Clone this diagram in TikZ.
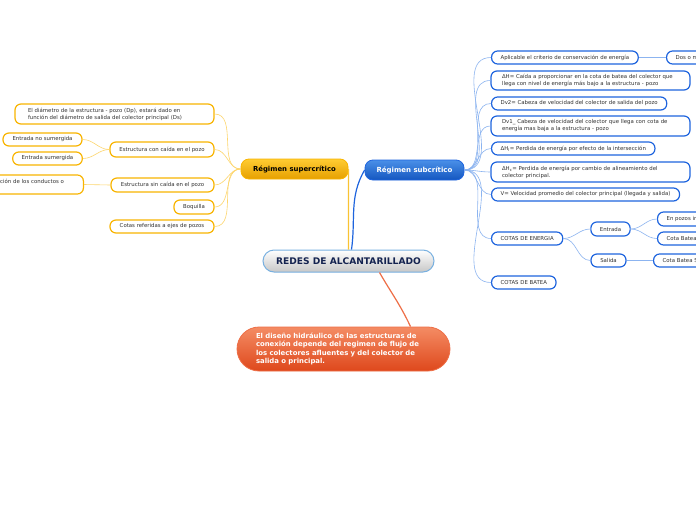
\documentclass[tikz,border=0pt]{standalone}
\usepackage{fontspec}
\setmainfont{DejaVu Sans}
\usetikzlibrary{positioning}
\definecolor{ybord}{RGB}{248,180,0}
\definecolor{ywire}{RGB}{253,214,110}
\definecolor{bbord}{RGB}{30,100,222}
\definecolor{bwire}{RGB}{140,180,240}
\definecolor{ink}{RGB}{50,50,50}
\definecolor{navy}{RGB}{20,35,80}
\definecolor{cbord}{RGB}{120,176,224}
\definecolor{ytop}{RGB}{255,204,50}
\definecolor{ybot}{RGB}{230,160,0}
\definecolor{btop}{RGB}{74,144,232}
\definecolor{bbot}{RGB}{20,86,192}
\definecolor{otop}{RGB}{244,140,100}
\definecolor{obot}{RGB}{222,72,28}
\definecolor{obord}{RGB}{238,110,70}

\begin{document}
\begin{tikzpicture}[x=1pt, y=-1pt,
    leaf/.style={rounded corners=6pt, line width=1.2pt, fill=white, text=ink,
                 font=\fontsize{5.4}{7}\selectfont, inner ysep=0pt, inner xsep=9pt,
                 align=left},
    yleaf/.style={leaf, draw=ybord},
    bleaf/.style={leaf, draw=bbord},
    ylink/.style={draw=ywire, line width=0.6pt},
    blink/.style={draw=bwire, line width=0.6pt}]
    % page
    \fill[white] (0,0) rectangle (696,520);
    \useasboundingbox (0,0) rectangle (696,520);
    \clip (0,0) rectangle (696,520);

    % main topics
    \node[rounded corners=11pt, draw=cbord, line width=1pt, top color=white,
          bottom color=black!22, text=navy, font=\bfseries\fontsize{9.1}{10}\selectfont,
          minimum width=171pt, minimum height=22pt] (redes) at (348.5,261)
          {REDES DE ALCANTARILLADO};
    \node[rounded corners=8pt, draw=ybord, line width=0.8pt, top color=ytop,
          bottom color=ybot, text=black, font=\bfseries\fontsize{6.9}{8}\selectfont,
          minimum width=107pt, minimum height=20pt] (sup) at (294.5,169)
          {Régimen supercrítico};
    \node[rounded corners=8pt, draw=bbord, line width=0.8pt, top color=btop,
          bottom color=bbot, text=white, font=\bfseries\fontsize{7}{8}\selectfont,
          minimum width=99pt, minimum height=20pt] (sub) at (414.5,170)
          {Régimen subcrítico};
    \node[rounded corners=22pt, draw=obord, line width=0.8pt, top color=otop,
          bottom color=obot, text=white, font=\bfseries\fontsize{6.9}{8.5}\selectfont,
          align=left, text width=175pt, inner xsep=19pt, minimum height=44pt]
          (diseno) at (343.5,349)
          {El diseño hidráulico de las estructuras de\\
           conexión depende del regimen de flujo de\\
           los colectores afluentes y del colector de\\
           salida o principal.};

    \draw[ybord!80, line width=1.2pt] (redes.north) -- (sup.east);
    \draw[bbord, line width=1.2pt] ([xshift=3pt]redes.north) to[out=82,in=240] (sub.west);
    \draw[obord, line width=1.2pt] ([xshift=31pt]redes.south) to[out=-60,in=115]
          ([xshift=67pt]diseno.north);

    % supercritico
    \node[yleaf, text width=173pt, inner xsep=13pt, minimum height=20pt] (dia)
          at (114.5,114) {El diámetro de la estructura - pozo (Dp), estará dado en\\
          función del diámetro de salida del colector principal (Ds)};
    \node[yleaf, align=center, minimum width=104pt, minimum height=15pt] (con)
          at (162,149.5) {Estructura con caída en el pozo};
    \node[yleaf, align=center, minimum width=79pt, minimum height=13pt] (nosum)
          at (42.5,139.5) {Entrada no sumergida};
    \node[yleaf, align=center, minimum width=69pt, minimum height=13pt] (sum)
          at (47.5,158.5) {Entrada sumergida};
    \node[yleaf, align=center, minimum width=103pt, minimum height=14pt] (sin)
          at (162.5,185) {Estructura sin caída en el pozo};
    \node[yleaf, anchor=east, text width=95pt, inner xsep=10pt, minimum height=19pt]
          (union) at (84,184.5) {Intersección de los conductos o\\[-2pt] \strut};
    \node[yleaf, align=center, minimum width=40pt, minimum height=14pt] (boq)
          at (194,207) {Boquilla};
    \node[yleaf, align=center, minimum width=104pt, minimum height=13pt] (ejes)
          at (162,226.5) {Cotas referidas a ejes de pozos};

    \foreach \n in {dia,con,sin,boq,ejes}
      \draw[ylink] (sup.west) to[out=180,in=0] (\n.east);
    \draw[ylink] (con.west) to[out=180,in=0] (nosum.east);
    \draw[ylink] (con.west) to[out=180,in=0] (sum.east);
    \draw[ylink] (sin.west) -- (union.east);

    % subcritico
    \node[bleaf, anchor=west, minimum height=13pt] (cons)
          at (491,57.5) {Aplicable el criterio de conservación de energía};
    \node[bleaf, anchor=west, minimum height=13pt] (dos)
          at (666,57.5) {Dos o más colectores que llegan al pozo};
    \node[bleaf, text width=177pt, inner xsep=11pt, minimum height=19pt] (dh)
          at (590.5,80.5) {ΔH= Caída a proporcionar en la cota de batea del colector que\\
          llega con nivel de energía más bajo a la estructura - pozo};
    \node[bleaf, anchor=west, minimum height=13pt] (dvdos)
          at (491,103.5) {Dv2= Cabeza de velocidad del colector de salida del pozo};
    \node[bleaf, text width=177pt, inner xsep=11pt, minimum height=20pt] (dvuno)
          at (590.5,126) {Dv1\_ Cabeza de velocidad del colector que llega con cota de\\
          energía mas baja a la estructura - pozo};
    \node[bleaf, anchor=west, minimum height=13pt] (dhi)
          at (491,148.5) {ΔH\textsubscript{I}= Perdida de energía por efecto de la intersección};
    \node[bleaf, text width=177pt, inner xsep=11pt, minimum height=20pt] (dhc)
          at (590.5,172) {ΔH\textsubscript{c}= Perdida de energía por cambio de alineamiento del\\
          colector principal.};
    \node[bleaf, anchor=west, minimum height=13pt] (vel)
          at (491,194.5) {V= Velocidad promedio del colector principal (llegada y salida)};
    \node[bleaf, anchor=west, minimum height=13pt] (energia)
          at (491,238.5) {COTAS DE ENERGIA};
    \node[bleaf, align=center, minimum width=39pt, minimum height=14pt] (ent)
          at (610.5,229) {Entrada};
    \node[bleaf, anchor=west, minimum height=14pt] (inter)
          at (657,219) {En pozos intermedios};
    \node[bleaf, anchor=west, minimum height=13pt] (cbent)
          at (657,238.5) {Cota Batea Entrada};
    \node[bleaf, align=center, minimum width=35pt, minimum height=13pt] (sal)
          at (608.5,260.5) {Salida};
    \node[bleaf, anchor=west, minimum height=13pt] (cbsal)
          at (653,260.5) {Cota Batea Salida};
    \node[bleaf, anchor=west, minimum height=13pt] (batea)
          at (491,282.5) {COTAS DE BATEA};

    \foreach \n in {cons,dh,dvdos,dvuno,dhi,dhc,vel,energia,batea}
      \draw[blink] (sub.east) to[out=0,in=180] (\n.west);
    \draw[blink] (cons.east) -- (dos.west);
    \draw[blink] (energia.east) to[out=0,in=180] (ent.west);
    \draw[blink] (energia.east) to[out=0,in=180] (sal.west);
    \draw[blink] (ent.east) to[out=0,in=180] (inter.west);
    \draw[blink] (ent.east) to[out=0,in=180] (cbent.west);
    \draw[blink] (sal.east) -- (cbsal.west);
\end{tikzpicture}
\end{document}
